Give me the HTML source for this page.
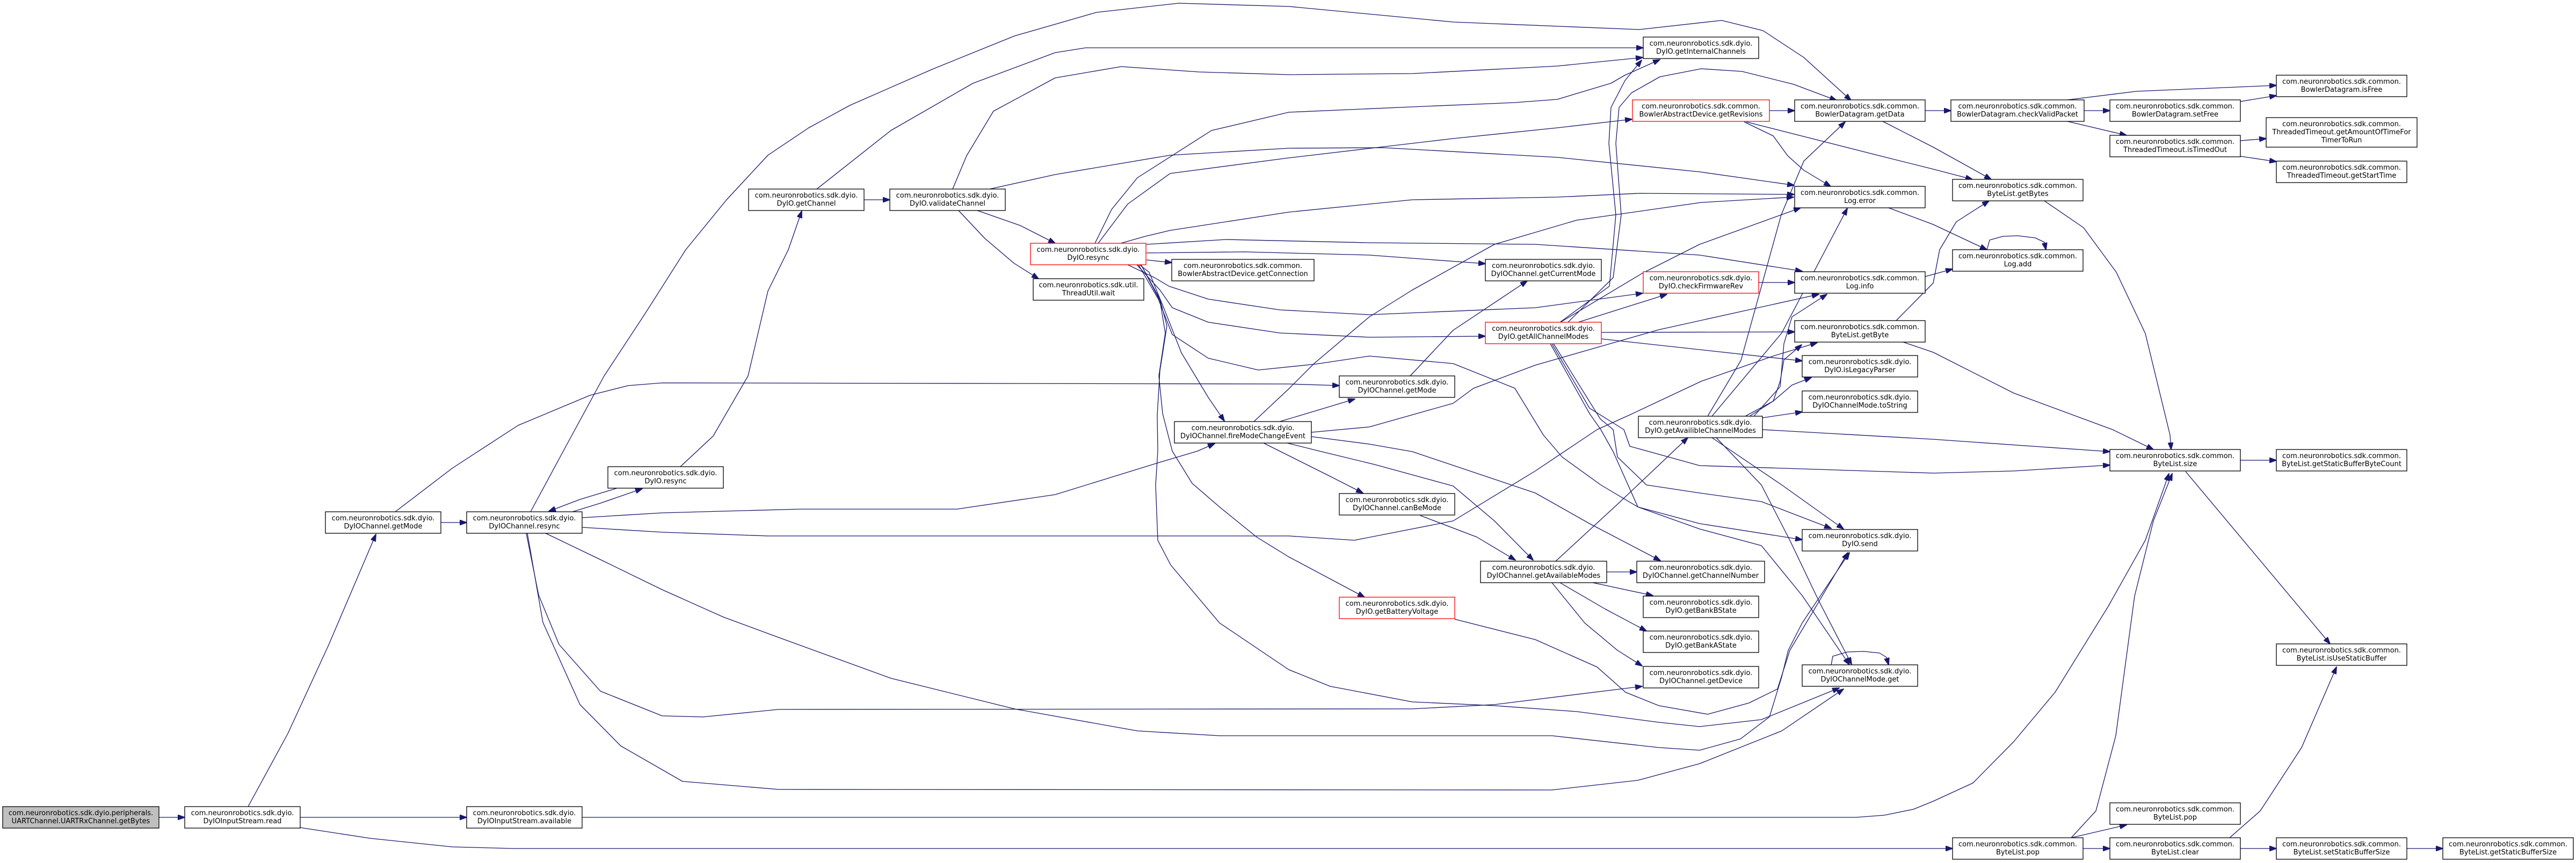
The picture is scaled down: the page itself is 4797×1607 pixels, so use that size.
<!DOCTYPE html>
<html><head><meta charset="utf-8">
<style>
html,body{margin:0;padding:0;background:#fff;}
svg{display:block;}
.n rect{fill:#fff;stroke:#000;stroke-width:1.3;}
.n.r rect{stroke:#ff0000;}
.n.g rect{fill:#bfbfbf;}
text{font-family:"DejaVu Sans","Liberation Sans",sans-serif;font-size:13px;fill:#000;text-anchor:middle;}
.e polyline{fill:none;stroke:#191970;stroke-width:1.3;stroke-linejoin:round;marker-end:url(#a);}
</style></head>
<body>
<svg width="4797" height="1607" viewBox="0 0 4797 1607" xmlns="http://www.w3.org/2000/svg">
<defs>
<marker id="a" markerWidth="14" markerHeight="10" refX="13" refY="5" orient="auto" markerUnits="userSpaceOnUse">
<path d="M0,0 L14,5 L0,10 z" fill="#191970" stroke="#191970" stroke-width="1"/>
</marker>
</defs>
<rect x="0" y="0" width="4797" height="1607" fill="#fff"/>

<g class="e">
<polyline points="296,1522 344,1522"/>
<polyline points="559,1522 869,1522"/>
<polyline points="462,1502 536,1366 612,1201 700,995"/>
<polyline points="559,1541 689,1561 842,1577 956,1580 3636,1580"/>
<polyline points="821,973 869,973"/>
<polyline points="988,953 1056,827 1125,700 1200,586 1277,465 1353,372 1430,289 1506,238 1583,196 1736,129 1889,67 2042,23 2195,6 2400,12 2706,41 3053,55 3206,38 3283,57 3359,107 3447,187"/>
<polyline points="736,953 842,872 965,792 1099,736 1170,718 1233,713 2400,715 2494,718"/>
<polyline points="1066,953 1118,937 1196,910"/>
<polyline points="1149,909 1080,930 1022,952"/>
<polyline points="1267,869 1328,812 1393,700 1430,542 1468,465 1493,393"/>
<polyline points="1609,372 1657,372"/>
<polyline points="1521,352 1659,243 1812,155 1965,98 2022,89 2400,89 3060,89"/>
<polyline points="1774,352 1800,290 1850,207 1965,145 2088,124 2233,134 2400,139 2630,137 2900,123 3059,107"/>
<polyline points="1843,352 1965,325 2179,289 2400,276 2576,275 2900,293 3165,320 3341,345"/>
<polyline points="1820,392 1900,420 1965,453"/>
<polyline points="1785,392 1834,444 1888,490 1934,519"/>
<polyline points="2039,453 2070,390 2118,331 2256,243 2400,209 2630,199 2821,191 2900,185 3000,155 3026,140 3091,111"/>
<polyline points="2045,453 2100,380 2179,323 2400,294 2706,258 2900,238 3039,222"/>
<polyline points="2087,453 2133,440 2179,429 2400,395 2630,372 2900,367 3053,360 3341,362"/>
<polyline points="2135,455 2283,446 2550,452 2859,455 3165,475 3356,505"/>
<polyline points="2135,471 2317,469 2550,475 2766,491"/>
<polyline points="2135,484 2182,489"/>
<polyline points="2100,493 2150,517 2177,533 2250,557 2383,577 2550,586 2859,573 3059,546"/>
<polyline points="2117,493 2160,540 2183,573 2250,600 2383,620 2550,628 2766,626"/>
<polyline points="2120,493 2157,557 2183,623 2250,667 2343,689 2450,678 2550,663 2706,677 2821,723 2874,810 2909,851 2981,903 3050,944 3165,975 3356,1005"/>
<polyline points="2122,493 2140,507 2167,573 2200,657 2250,740 2280,784"/>
<polyline points="2125,493 2160,560 2170,620 2158,700 2165,770 2183,840 2220,900 2271,944 2340,1000 2400,1037 2541,1112"/>
<polyline points="2127,497 2160,557 2173,607 2160,690 2155,773 2156,840 2152,903 2156,1006 2180,1052 2271,1160 2400,1247 2477,1278 2630,1307 2783,1314 2936,1325 3089,1345 3165,1353 3280,1340 3425,1281"/>
<polyline points="1084,964 1233,955 1491,948 1782,948 1965,921 2156,862 2230,840 2262,826"/>
<polyline points="1084,982 1233,991 1430,998 2400,998 2522,1006 2706,970 2859,877 2974,800 3034,773 3168,710 3302,663 3384,638"/>
<polyline points="1016,993 1118,1042 1233,1098 1347,1149 1450,1187 1659,1263 1889,1320 2118,1361 2271,1370 2890,1370 3089,1392 3165,1397 3241,1376 3295,1335 3318,1260 3330,1211 3356,1160 3444,1029"/>
<polyline points="980,993 1003,1108 1041,1200 1118,1287 1233,1333 1309,1335 1450,1321 2630,1320 2783,1312 3058,1278"/>
<polyline points="982,993 1011,1159 1080,1312 1156,1389 1271,1455 1450,1470 2890,1471 3050,1453 3165,1422 3318,1361 3433,1283"/>
<polyline points="1084,1522 3456,1522 3509,1518 3563,1507 3600,1492 3674,1458 3750,1381 3827,1289 3926,1129 3995,1006 4039,882"/>
<polyline points="2383,785 2450,765 2523,743"/>
<polyline points="2442,805 2550,795 2706,751 2744,723 2859,680 3089,614 3387,548"/>
<polyline points="2442,813 2550,827 2630,841 2859,918 2960,975 3092,1044"/>
<polyline points="2397,825 2457,840 2560,865 2706,905 2783,970 2855,1043"/>
<polyline points="2353,825 2383,840 2477,887 2538,918"/>
<polyline points="2335,785 2400,724 2447,677 2550,590 2630,540 2783,455 2936,410 3007,400 3168,377 3340,367"/>
<polyline points="2626,700 2706,615 2844,523"/>
<polyline points="2645,960 2750,1000 2822,1043"/>
<polyline points="2992,1065 3048,1065"/>
<polyline points="2966,1085 3078,1109"/>
<polyline points="2905,1085 2989,1134 3066,1175"/>
<polyline points="2890,1085 2951,1160 3012,1211 3058,1240"/>
<polyline points="2897,1045 3012,939 3143,815"/>
<polyline points="2709,1153 2859,1191 2974,1242 3027,1289 3089,1314 3180,1330 3257,1309 3310,1283 3333,1211 3379,1134 3441,1029"/>
<polyline points="2906,600 3058,509 3165,455 3353,387"/>
<polyline points="2920,600 3004,517 3019,400 3009,267 3015,200 3038,173 3091,143 3168,128 3244,133 3340,157 3420,187"/>
<polyline points="2905,600 2997,533 3009,400 2996,267 3000,200 3026,150 3057,112"/>
<polyline points="2939,600 3104,548"/>
<polyline points="2982,619 3342,618"/>
<polyline points="2982,631 3356,672"/>
<polyline points="2890,640 2960,760 3024,800 3035,831 3165,867 3600,881 3750,877 3929,866"/>
<polyline points="2893,640 2980,780 3004,800 3012,851 3066,903 3165,918 3280,934 3410,984"/>
<polyline points="2887,640 2960,770 2981,800 3004,841 3050,944 3165,985 3280,1016 3356,1109 3444,1238"/>
<polyline points="3275,526 3342,526"/>
<polyline points="3295,206 3342,206"/>
<polyline points="3248,227 3302,253 3329,290 3359,317 3409,347"/>
<polyline points="3252,227 3500,290 3600,315 3673,334"/>
<polyline points="3585,206 3633,206"/>
<polyline points="3506,226 3600,274 3708,334"/>
<polyline points="3517,387 3600,418 3700,465"/>
<polyline points="3585,515 3636,501"/>
<polyline points="3531,597 3600,527 3612,465 3643,413 3704,374"/>
<polyline points="3544,637 3600,656 3750,732 3934,800 4010,837"/>
<polyline points="3807,374 3880,424 3941,507 3995,621 4041,810 4043,837"/>
<polyline points="3282,800 3600,818 3929,841"/>
<polyline points="3180,775 3242,671 3317,400 3359,300 3436,227"/>
<polyline points="3188,775 3318,620 3440,388"/>
<polyline points="3250,775 3302,747 3337,717 3373,703"/>
<polyline points="3266,775 3315,720 3322,640 3337,590 3402,548"/>
<polyline points="3258,775 3302,747 3315,710 3322,670 3355,642"/>
<polyline points="3282,778 3356,767"/>
<polyline points="3188,815 3318,903 3433,985"/>
<polyline points="3196,815 3280,903 3333,1006 3387,1119 3448,1237"/>
<polyline points="3881,206 3929,206"/>
<polyline points="3850,186 3979,170 4239,159"/>
<polyline points="3850,226 3960,252"/>
<polyline points="4172,189 4239,178"/>
<polyline points="4172,262 4220,258"/>
<polyline points="4172,291 4239,301"/>
<polyline points="4172,857 4239,857"/>
<polyline points="4070,878 4339,1199"/>
<polyline points="3857,1560 3903,1510 3940,1370 3975,1110 4010,970 4045,882"/>
<polyline points="3857,1560 3960,1536"/>
<polyline points="3879,1580 3929,1580"/>
<polyline points="4152,1560 4209,1510 4286,1392 4351,1242"/>
<polyline points="4172,1580 4239,1580"/>
<polyline points="4482,1580 4549,1580"/>
<polyline points="3700,465 3705,447 3730,440 3758,439 3790,443 3807,451 3810,465"/>
<polyline points="3410,1238 3413,1222 3440,1214 3471,1213 3500,1216 3513,1224 3517,1238"/>
</g>

<g class="n g"><rect x="5" y="1502" width="291" height="40"/><text x="150.5" y="1518">com.neuronrobotics.sdk.dyio.peripherals.</text><text x="150.5" y="1533">UARTChannel.UARTRxChannel.getBytes</text></g>
<g class="n"><rect x="344" y="1502" width="215" height="40"/><text x="451.5" y="1518">com.neuronrobotics.sdk.dyio.</text><text x="451.5" y="1533">DyIOInputStream.read</text></g>
<g class="n"><rect x="606" y="953" width="215" height="40"/><text x="713.5" y="969">com.neuronrobotics.sdk.dyio.</text><text x="713.5" y="984">DyIOChannel.getMode</text></g>
<g class="n"><rect x="869" y="953" width="215" height="40"/><text x="976.5" y="969">com.neuronrobotics.sdk.dyio.</text><text x="976.5" y="984">DyIOChannel.resync</text></g>
<g class="n"><rect x="869" y="1502" width="215" height="40"/><text x="976.5" y="1518">com.neuronrobotics.sdk.dyio.</text><text x="976.5" y="1533">DyIOInputStream.available</text></g>
<g class="n"><rect x="1132" y="869" width="215" height="40"/><text x="1239.5" y="885">com.neuronrobotics.sdk.dyio.</text><text x="1239.5" y="900">DyIO.resync</text></g>
<g class="n"><rect x="1394" y="352" width="215" height="40"/><text x="1501.5" y="368">com.neuronrobotics.sdk.dyio.</text><text x="1501.5" y="383">DyIO.getChannel</text></g>
<g class="n"><rect x="1657" y="352" width="215" height="40"/><text x="1764.5" y="368">com.neuronrobotics.sdk.dyio.</text><text x="1764.5" y="383">DyIO.validateChannel</text></g>
<g class="n r"><rect x="1919" y="453" width="215" height="40"/><text x="2026.5" y="469">com.neuronrobotics.sdk.dyio.</text><text x="2026.5" y="484">DyIO.resync</text></g>
<g class="n"><rect x="1924" y="519" width="206" height="40"/><text x="2027" y="535">com.neuronrobotics.sdk.util.</text><text x="2027" y="550">ThreadUtil.wait</text></g>
<g class="n"><rect x="2182" y="483" width="265" height="40"/><text x="2314.5" y="499">com.neuronrobotics.sdk.common.</text><text x="2314.5" y="514">BowlerAbstractDevice.getConnection</text></g>
<g class="n"><rect x="2187" y="785" width="255" height="40"/><text x="2314.5" y="801">com.neuronrobotics.sdk.dyio.</text><text x="2314.5" y="816">DyIOChannel.fireModeChangeEvent</text></g>
<g class="n"><rect x="2494" y="700" width="215" height="40"/><text x="2601.5" y="716">com.neuronrobotics.sdk.dyio.</text><text x="2601.5" y="731">DyIOChannel.getMode</text></g>
<g class="n"><rect x="2494" y="919" width="215" height="40"/><text x="2601.5" y="935">com.neuronrobotics.sdk.dyio.</text><text x="2601.5" y="950">DyIOChannel.canBeMode</text></g>
<g class="n r"><rect x="2494" y="1112" width="215" height="40"/><text x="2601.5" y="1128">com.neuronrobotics.sdk.dyio.</text><text x="2601.5" y="1143">DyIO.getBatteryVoltage</text></g>
<g class="n"><rect x="2766" y="483" width="216" height="40"/><text x="2874" y="499">com.neuronrobotics.sdk.dyio.</text><text x="2874" y="514">DyIOChannel.getCurrentMode</text></g>
<g class="n r"><rect x="2766" y="600" width="216" height="40"/><text x="2874" y="616">com.neuronrobotics.sdk.dyio.</text><text x="2874" y="631">DyIO.getAllChannelModes</text></g>
<g class="n"><rect x="2757" y="1045" width="235" height="40"/><text x="2874.5" y="1061">com.neuronrobotics.sdk.dyio.</text><text x="2874.5" y="1076">DyIOChannel.getAvailableModes</text></g>
<g class="n"><rect x="3060" y="69" width="215" height="40"/><text x="3167.5" y="85">com.neuronrobotics.sdk.dyio.</text><text x="3167.5" y="100">DyIO.getInternalChannels</text></g>
<g class="n r"><rect x="3040" y="186" width="255" height="40"/><text x="3167.5" y="202">com.neuronrobotics.sdk.common.</text><text x="3167.5" y="217">BowlerAbstractDevice.getRevisions</text></g>
<g class="n r"><rect x="3060" y="506" width="215" height="40"/><text x="3167.5" y="522">com.neuronrobotics.sdk.dyio.</text><text x="3167.5" y="537">DyIO.checkFirmwareRev</text></g>
<g class="n"><rect x="3051" y="775" width="231" height="40"/><text x="3166.5" y="791">com.neuronrobotics.sdk.dyio.</text><text x="3166.5" y="806">DyIO.getAvailibleChannelModes</text></g>
<g class="n"><rect x="3048" y="1045" width="238" height="40"/><text x="3167" y="1061">com.neuronrobotics.sdk.dyio.</text><text x="3167" y="1076">DyIOChannel.getChannelNumber</text></g>
<g class="n"><rect x="3060" y="1110" width="215" height="40"/><text x="3167.5" y="1126">com.neuronrobotics.sdk.dyio.</text><text x="3167.5" y="1141">DyIO.getBankBState</text></g>
<g class="n"><rect x="3060" y="1175" width="215" height="40"/><text x="3167.5" y="1191">com.neuronrobotics.sdk.dyio.</text><text x="3167.5" y="1206">DyIO.getBankAState</text></g>
<g class="n"><rect x="3060" y="1241" width="215" height="40"/><text x="3167.5" y="1257">com.neuronrobotics.sdk.dyio.</text><text x="3167.5" y="1272">DyIOChannel.getDevice</text></g>
<g class="n"><rect x="3342" y="186" width="243" height="40"/><text x="3463.5" y="202">com.neuronrobotics.sdk.common.</text><text x="3463.5" y="217">BowlerDatagram.getData</text></g>
<g class="n"><rect x="3342" y="347" width="243" height="40"/><text x="3463.5" y="363">com.neuronrobotics.sdk.common.</text><text x="3463.5" y="378">Log.error</text></g>
<g class="n"><rect x="3342" y="506" width="243" height="40"/><text x="3463.5" y="522">com.neuronrobotics.sdk.common.</text><text x="3463.5" y="537">Log.info</text></g>
<g class="n"><rect x="3342" y="597" width="243" height="40"/><text x="3463.5" y="613">com.neuronrobotics.sdk.common.</text><text x="3463.5" y="628">ByteList.getByte</text></g>
<g class="n"><rect x="3356" y="662" width="215" height="40"/><text x="3463.5" y="678">com.neuronrobotics.sdk.dyio.</text><text x="3463.5" y="693">DyIO.isLegacyParser</text></g>
<g class="n"><rect x="3356" y="728" width="215" height="40"/><text x="3463.5" y="744">com.neuronrobotics.sdk.dyio.</text><text x="3463.5" y="759">DyIOChannelMode.toString</text></g>
<g class="n"><rect x="3356" y="986" width="215" height="40"/><text x="3463.5" y="1002">com.neuronrobotics.sdk.dyio.</text><text x="3463.5" y="1017">DyIO.send</text></g>
<g class="n"><rect x="3356" y="1238" width="215" height="40"/><text x="3463.5" y="1254">com.neuronrobotics.sdk.dyio.</text><text x="3463.5" y="1269">DyIOChannelMode.get</text></g>
<g class="n"><rect x="3633" y="186" width="248" height="40"/><text x="3757" y="202">com.neuronrobotics.sdk.common.</text><text x="3757" y="217">BowlerDatagram.checkValidPacket</text></g>
<g class="n"><rect x="3636" y="334" width="243" height="40"/><text x="3757.5" y="350">com.neuronrobotics.sdk.common.</text><text x="3757.5" y="365">ByteList.getBytes</text></g>
<g class="n"><rect x="3636" y="465" width="243" height="40"/><text x="3757.5" y="481">com.neuronrobotics.sdk.common.</text><text x="3757.5" y="496">Log.add</text></g>
<g class="n"><rect x="3636" y="1560" width="243" height="40"/><text x="3757.5" y="1576">com.neuronrobotics.sdk.common.</text><text x="3757.5" y="1591">ByteList.pop</text></g>
<g class="n"><rect x="3929" y="186" width="243" height="40"/><text x="4050.5" y="202">com.neuronrobotics.sdk.common.</text><text x="4050.5" y="217">BowlerDatagram.setFree</text></g>
<g class="n"><rect x="3929" y="252" width="243" height="40"/><text x="4050.5" y="268">com.neuronrobotics.sdk.common.</text><text x="4050.5" y="283">ThreadedTimeout.isTimedOut</text></g>
<g class="n"><rect x="3929" y="837" width="243" height="40"/><text x="4050.5" y="853">com.neuronrobotics.sdk.common.</text><text x="4050.5" y="868">ByteList.size</text></g>
<g class="n"><rect x="3929" y="1495" width="243" height="40"/><text x="4050.5" y="1511">com.neuronrobotics.sdk.common.</text><text x="4050.5" y="1526">ByteList.pop</text></g>
<g class="n"><rect x="3929" y="1560" width="243" height="40"/><text x="4050.5" y="1576">com.neuronrobotics.sdk.common.</text><text x="4050.5" y="1591">ByteList.clear</text></g>
<g class="n"><rect x="4239" y="140" width="243" height="40"/><text x="4360.5" y="156">com.neuronrobotics.sdk.common.</text><text x="4360.5" y="171">BowlerDatagram.isFree</text></g>
<g class="n"><rect x="4220" y="219" width="281" height="55"/><text x="4360.5" y="235">com.neuronrobotics.sdk.common.</text><text x="4360.5" y="250">ThreadedTimeout.getAmountOfTimeFor</text><text x="4360.5" y="265">TimerToRun</text></g>
<g class="n"><rect x="4239" y="300" width="243" height="40"/><text x="4360.5" y="316">com.neuronrobotics.sdk.common.</text><text x="4360.5" y="331">ThreadedTimeout.getStartTime</text></g>
<g class="n"><rect x="4239" y="837" width="243" height="40"/><text x="4360.5" y="853">com.neuronrobotics.sdk.common.</text><text x="4360.5" y="868">ByteList.getStaticBufferByteCount</text></g>
<g class="n"><rect x="4239" y="1199" width="243" height="40"/><text x="4360.5" y="1215">com.neuronrobotics.sdk.common.</text><text x="4360.5" y="1230">ByteList.isUseStaticBuffer</text></g>
<g class="n"><rect x="4239" y="1560" width="243" height="40"/><text x="4360.5" y="1576">com.neuronrobotics.sdk.common.</text><text x="4360.5" y="1591">ByteList.setStaticBufferSize</text></g>
<g class="n"><rect x="4549" y="1560" width="243" height="40"/><text x="4670.5" y="1576">com.neuronrobotics.sdk.common.</text><text x="4670.5" y="1591">ByteList.getStaticBufferSize</text></g>
</svg>
</body></html>
